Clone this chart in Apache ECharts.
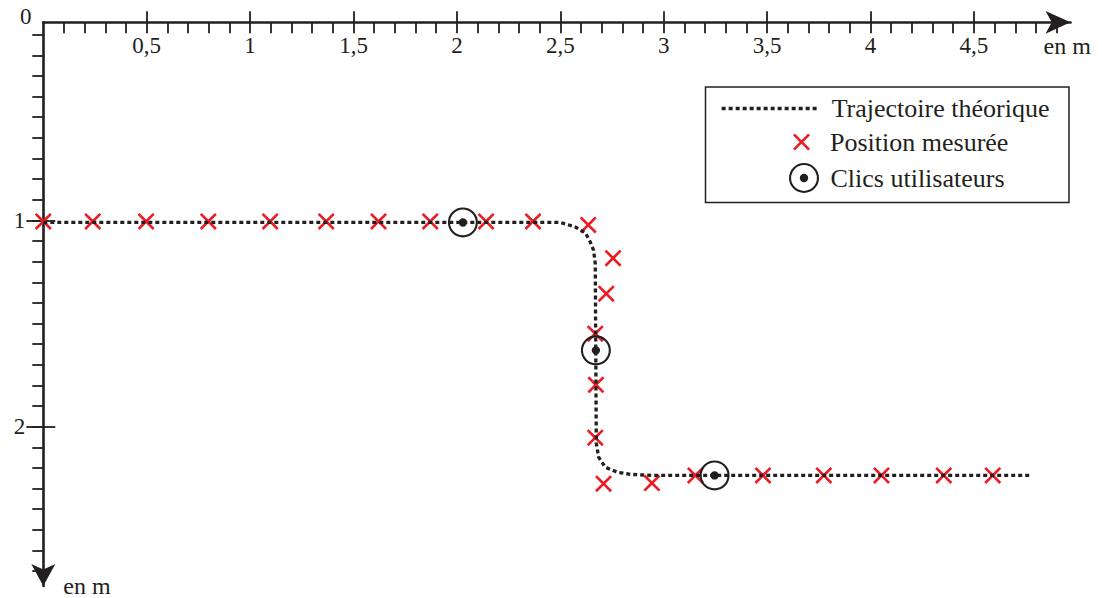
<!DOCTYPE html>
<html>
<head>
<meta charset="utf-8">
<script src="https://cdn.jsdelivr.net/npm/echarts@6/dist/echarts.min.js"></script>
<style>
html,body{margin:0;padding:0;background:#fff;}
#chart{width:1102px;height:598px;}
</style>
</head>
<body>
<div id="chart"></div>
<script>
// ---- data (metres) ----
const trajectory = [
  [0, 1.01], [2.50, 1.01], [2.572, 1.032], [2.621, 1.06], [2.645, 1.105],
  [2.661, 1.145], [2.669, 1.21], [2.674, 2.08], [2.685, 2.147], [2.717, 2.196],
  [2.774, 2.22], [2.839, 2.231], [2.95, 2.236], [4.777, 2.236]
];
const measured = [
  [0, 1.005], [0.239, 1.005], [0.497, 1.005], [0.798, 1.005], [1.097, 1.005],
  [1.368, 1.005], [1.621, 1.005], [1.871, 1.005], [2.141, 1.005], [2.368, 1.005],
  [2.635, 1.022], [2.755, 1.183], [2.722, 1.355], [2.669, 1.549], [2.672, 1.797],
  [2.669, 2.053], [2.709, 2.276], [2.943, 2.273], [3.153, 2.236], [3.48, 2.236],
  [3.774, 2.236], [4.053, 2.236], [4.354, 2.236], [4.591, 2.236]
];
const clicks = [[2.029, 1.01], [2.672, 1.63], [3.246, 2.236]];

const xLabelValues = [0.5, 1, 1.5, 2, 2.5, 3, 3.5, 4, 4.5];
const xMajorTicks = [0.5, 1, 1.5, 2, 2.5, 3, 3.5, 4, 4.5];
const yLabelValues = [1, 2];
const yMajorTicks = [1, 2];
const xMinorTicks = [];
for (let i = 1; i <= 49; i++) xMinorTicks.push(i / 10);
const yMinorTicks = [];
for (let i = 1; i <= 27; i++) yMinorTicks.push(i / 10);

const X_MIN = 0, X_MAX = 4.967;
const Y_MIN = 0.04, Y_MAX = 2.772;

// ---- style ----
const INK = '#231f20';
const RED = '#ed1c24';
const FONT = "'Liberation Serif', 'DejaVu Serif', serif";
const CROSS = 'path://M11,0 L50,39 L89,0 L100,11 L61,50 L100,89 L89,100 L50,61 L11,100 L0,89 L39,50 L0,11 Z';
const RING = 'path://M50,0 A50,50 0 1,1 50,100 A50,50 0 1,1 50,0 Z M50,7 A43,43 0 1,0 50,93 A43,43 0 1,0 50,7 Z M50,36 A14,14 0 1,1 50,64 A14,14 0 1,1 50,36 Z';
const axisLineStyle = {color: INK, width: 2.6};
const tickStyle = {color: INK, width: 1.8};
const labelFont = {fontFamily: FONT, fontSize: 23, color: INK};

const chart = echarts.init(document.getElementById('chart'), null, {renderer: 'svg'});
const hiddenAxisBase = {
  type: 'value', axisLine: {show: false}, axisLabel: {show: false},
  splitLine: {show: false}, minorTick: {show: false}
};
chart.setOption({
  animation: false,
  backgroundColor: '#ffffff',
  grid: {left: 43.3, top: 22.3, right: 31.5, bottom: 12, containLabel: false, outerBoundsMode: 'none'},
  xAxis: [
    {
      type: 'value', position: 'top', min: X_MIN, max: X_MAX,
      name: 'en m', nameLocation: 'end', nameGap: -27,
      nameTextStyle: Object.assign({align: 'left', verticalAlign: 'top', padding: [12, 0, 0, 0]}, labelFont, {fontSize: 24}),
      axisLine: {show: true, symbol: ['none', 'arrow'], symbolSize: [17, 25], lineStyle: axisLineStyle},
      axisTick: {show: true, inside: true, length: 11, customValues: xMinorTicks, lineStyle: tickStyle},
      axisLabel: Object.assign({show: true, inside: true, margin: 12, customValues: xLabelValues,
        formatter: v => String(v).replace('.', ',')}, labelFont),
      splitLine: {show: false}
    },
    Object.assign({}, hiddenAxisBase, {
      position: 'top', min: X_MIN, max: X_MAX,
      axisTick: {show: true, inside: false, length: 11, customValues: xMajorTicks, lineStyle: tickStyle}
    })
  ],
  yAxis: [
    {
      type: 'value', position: 'left', inverse: true, min: Y_MIN, max: Y_MAX,
      name: 'en m', nameLocation: 'end', nameGap: 0,
      nameTextStyle: Object.assign({align: 'left', verticalAlign: 'middle', padding: [0, 0, 0, 20]}, labelFont, {fontSize: 24}),
      axisLine: {show: true, symbol: ['arrow', 'none'], symbolSize: [18, 22], lineStyle: axisLineStyle},
      axisTick: {show: true, inside: false, length: 11, customValues: yMinorTicks, lineStyle: tickStyle},
      axisLabel: Object.assign({show: true, margin: 18, customValues: yLabelValues}, labelFont),
      splitLine: {show: false}
    },
    Object.assign({}, hiddenAxisBase, {
      position: 'left', inverse: true, min: Y_MIN, max: Y_MAX,
      axisTick: {show: true, inside: false, length: 17, customValues: yMajorTicks, lineStyle: tickStyle}
    }),
    Object.assign({}, hiddenAxisBase, {
      position: 'left', inverse: true, min: Y_MIN, max: Y_MAX,
      axisTick: {show: true, inside: true, length: 12, customValues: yMajorTicks, lineStyle: tickStyle}
    })
  ],
  graphic: [
    {type: 'rect', z: 1, shape: {x: 705.5, y: 87, width: 363.5, height: 115.5},
      style: {fill: '#ffffff', stroke: INK, lineWidth: 1.5}},
    {type: 'text', z: 5, left: 20, top: 5, style: {text: '0', font: '23px ' + FONT, fill: INK}}
  ],
  legend: [
    {data: ['Trajectoire théorique'], left: 720, top: 95.5, padding: 0, selectedMode: false,
      itemWidth: 97, itemHeight: 14,
      itemStyle: {color: 'rgba(0,0,0,0)', opacity: 0, borderWidth: 0},
      lineStyle: {color: INK, width: 3.3, type: [4, 3], opacity: 1},
      textStyle: {fontFamily: FONT, fontSize: 26, color: INK, padding: [0, 0, 0, 8]}},
    {data: ['Position mesurée'], left: 793, top: 129, padding: 0, selectedMode: false,
      itemWidth: 17, itemHeight: 17,
      textStyle: {fontFamily: FONT, fontSize: 26, color: INK, padding: [0, 0, 0, 15]}},
    {data: ['Clics utilisateurs'], left: 789, top: 163, padding: 0, selectedMode: false,
      itemWidth: 30, itemHeight: 30,
      textStyle: {fontFamily: FONT, fontSize: 26, color: INK, padding: [0, 0, 0, 6.5]}}
  ],
  series: [
    {name: 'Trajectoire théorique', type: 'line', data: trajectory, symbol: 'none', silent: true,
      itemStyle: {color: INK},
      lineStyle: {color: INK, width: 3.3, type: [4, 3]}},
    {name: 'fond', type: 'scatter', data: clicks, symbol: 'circle', symbolSize: 28, silent: true,
      itemStyle: {color: '#ffffff', opacity: 1}},
    {name: 'Position mesurée', type: 'scatter', data: measured, symbol: CROSS, symbolSize: 17,
      itemStyle: {color: RED, opacity: 1}},
    {name: 'Clics utilisateurs', type: 'scatter', data: clicks, symbol: RING, symbolSize: 30,
      itemStyle: {color: INK, opacity: 1}}
  ]
});
</script>
</body>
</html>
